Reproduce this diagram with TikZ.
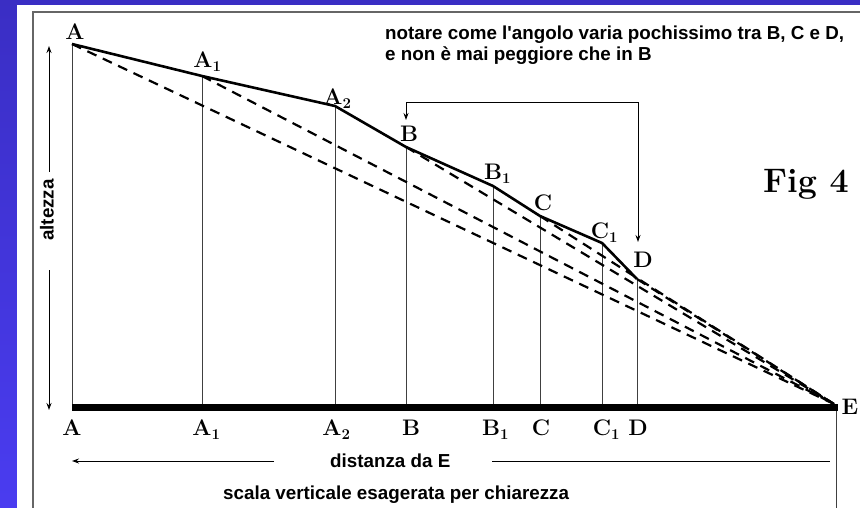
\documentclass[tikz,border=0pt]{standalone}
\usepackage{fontspec}
\newfontfamily\arialfont{Liberation Sans}
\usetikzlibrary{arrows.meta}
\newcommand\subl[2]{#1\rlap{\raisebox{-4pt}{\fontsize{15}{15}\selectfont #2}}}
\begin{document}
\begin{tikzpicture}[x=1pt,y=-1pt,
  lbl/.style={font=\fontsize{22.5}{22.5}\selectfont\bfseries, inner sep=0pt, anchor=base},
  sans/.style={font=\arialfont\fontsize{18.8}{18.8}\selectfont\bfseries, inner sep=0pt},
  fig/.style={font=\fontsize{34}{34}\selectfont\bfseries, inner sep=0pt, anchor=base},
  profile/.style={line width=2.6pt, line join=round},
  vert/.style={line width=1pt, black!75},
  sight/.style={line width=2.2pt, dash pattern=on 10pt off 7pt},
  frameline/.style={line width=1.3pt, black!60},
  arr/.style={-{Stealth[length=7pt,width=5pt]}, line width=1pt},
  thinline/.style={line width=1pt},
]
\useasboundingbox (0,0) rectangle (860,508);
% background
\shade[top color={rgb,255:red,58;green,46;blue,196}, bottom color={rgb,255:red,74;green,60;blue,240}] (0,0) rectangle (860,508);
\fill[white] (17,5) rectangle (860,508);
\draw[frameline] (33,508) -- (33,12) -- (860,12);

% profile points
\coordinate (pA)  at (72,44);
\coordinate (pA1) at (202,76);
\coordinate (pA2) at (335,106);
\coordinate (pB)  at (406,147);
\coordinate (pB1) at (493,186);
\coordinate (pC)  at (540,216);
\coordinate (pC1) at (602,243);
\coordinate (pD)  at (637,279);
\coordinate (pE)  at (834,404);
% ground points
\coordinate (gA)  at (72,404);
\coordinate (gA1) at (202,404);
\coordinate (gA2) at (335,404);
\coordinate (gB)  at (406,404);
\coordinate (gB1) at (493,404);
\coordinate (gC)  at (540,404);
\coordinate (gC1) at (602,404);
\coordinate (gD)  at (637,404);
\coordinate (gEb) at (836,411);
\coordinate (gEz) at (836,508);

% verticals
\foreach \p in {A,A1,A2,B,B1,C,C1,D} \draw[vert] (p\p) -- (g\p);
\draw[vert] (gEb) -- (gEz);

% ground
\fill (72,404) rectangle (838,411);

% sight lines
\foreach \p in {A,A1,B,C,D} \draw[sight] (p\p) -- (pE);

% profile
\draw[profile] (pA) -- (pA1) -- (pA2) -- (pB) -- (pB1) -- (pC) -- (pC1) -- (pD);

% bracket arrows B <-> D
\coordinate (brB) at (406,120);
\coordinate (brBt) at (406,103);
\coordinate (brDt) at (638,103);
\coordinate (brD) at (638,242);
\draw[thinline, {Stealth[length=7pt,width=5pt]}-{Stealth[length=7pt,width=5pt]}] (brB) -- (brBt) -- (brDt) -- (brD);

% top labels
\node[lbl] (tA)  at (75,40)  {A};
\node[lbl] (tA1) at (203,68) {\subl{A}{1}};
\node[lbl] (tA2) at (333,105) {\subl{A}{2}};
\node[lbl] (tB)  at (409,142) {B};
\node[lbl] (tB1) at (493,180) {\subl{B}{1}};
\node[lbl] (tC)  at (543,211) {C};
\node[lbl] (tC1) at (600,238) {\subl{C}{1}};
\node[lbl] (tD)  at (643,267) {D};

% bottom labels
\node[lbl] (bA)  at (72,435)  {A};
\node[lbl] (bA1) at (202,435) {\subl{A}{1}};
\node[lbl] (bA2) at (332,435) {\subl{A}{2}};
\node[lbl] (bB)  at (411,435) {B};
\node[lbl] (bB1) at (491,435) {\subl{B}{1}};
\node[lbl] (bC)  at (541,435) {C};
\node[lbl] (bC1) at (602,435) {\subl{C}{1}};
\node[lbl] (bD)  at (638,435) {D};
\node[lbl] (bE)  at (850,414) {E};

% Fig 4
\node[fig] (fig) at (806,193) {Fig 4};

% top note
\node[sans, anchor=base west] (n1) at (385,40) {notare come l'angolo varia pochissimo tra B, C e D,};
\node[sans, anchor=base west] (n2) at (385,61) {e non è mai peggiore che in B};

% altezza
\node[sans, rotate=90] (alt) at (47,210) {altezza};
\coordinate (altTop) at (49,46);
\coordinate (altBot) at (49,410);
\draw[arr] (49,172) -- (altTop);
\draw[arr] (49,270) -- (altBot);

% distanza
\node[sans, anchor=base west] (dist) at (330,467) {distanza da E};
\coordinate (distL) at (72,461);
\coordinate (distR) at (830,461);
\draw[arr] (274,461) -- (distL);
\draw[thinline] (492,461) -- (distR);

\node[sans, anchor=base west] (scala) at (223,499) {scala verticale esagerata per chiarezza};
\end{tikzpicture}
\end{document}
